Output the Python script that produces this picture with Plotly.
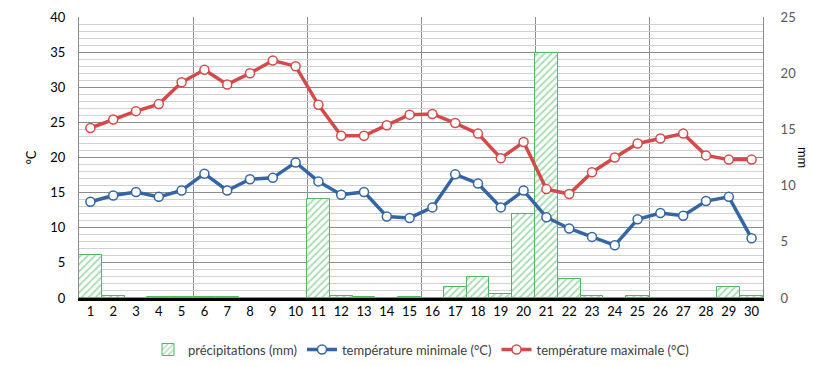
import plotly.graph_objects as go

days = list(range(1, 31))
precip_mm = [3.8, 0.2, 0.0, 0.1, 0.1, 0.1, 0.1, 0.0, 0.0, 0.0,
             8.8, 0.2, 0.1, 0.0, 0.1, 0.0, 1.0, 1.9, 0.4, 7.5,
             21.8, 1.7, 0.2, 0.0, 0.2, 0.0, 0.0, 0.0, 1.0, 0.2]
tmin = [13.7, 14.6, 15.1, 14.4, 15.3, 17.7, 15.3, 16.9, 17.1, 19.3,
        16.6, 14.7, 15.1, 11.6, 11.4, 12.9, 17.6, 16.3, 12.9, 15.3,
        11.5, 9.9, 8.7, 7.5, 11.2, 12.1, 11.7, 13.8, 14.4, 8.5]
tmax = [24.2, 25.4, 26.6, 27.6, 30.7, 32.5, 30.4, 32.0, 33.8, 33.0,
        27.5, 23.1, 23.1, 24.6, 26.1, 26.2, 24.9, 23.4, 19.9, 22.2,
        15.5, 14.8, 17.9, 20.0, 22.0, 22.7, 23.4, 20.3, 19.7, 19.7]

FONT = "Lato"
GREEN = "#4fb862"
BLUE = "#3465a4"
RED = "#d44a4a"

fig = go.Figure()
fig.add_trace(go.Bar(
    x=days, y=precip_mm, name="précipitations (mm)", yaxis="y",
    width=1.0,
    marker=dict(color="white", line=dict(color=GREEN, width=1),
                pattern=dict(shape="/", fgcolor=GREEN, bgcolor="white",
                             size=5, solidity=0.35)),
))
fig.add_trace(go.Scatter(
    x=days, y=tmin, name="température minimale (°C)", yaxis="y2",
    mode="lines+markers",
    line=dict(color=BLUE, width=3.5),
    marker=dict(symbol="circle", size=9, color="white",
                line=dict(color=BLUE, width=1.5)),
))
fig.add_trace(go.Scatter(
    x=days, y=tmax, name="température maximale (°C)", yaxis="y2",
    mode="lines+markers",
    line=dict(color=RED, width=3.5),
    marker=dict(symbol="circle", size=9, color="white",
                line=dict(color=RED, width=1.5)),
))

fig.update_layout(
    width=813, height=358,
    margin=dict(l=71, r=58, t=9, b=68, autoexpand=False),
    paper_bgcolor="white", plot_bgcolor="white",
    font=dict(family=FONT, size=13, color="black"),
    bargap=0,
    showlegend=True,
    legend=dict(orientation="h", x=0.5, xanchor="center", y=-0.13,
                yanchor="top", font=dict(size=13, color="#404040"),
                itemwidth=30, tracegroupgap=0),
    xaxis=dict(
        range=[0.5, 30.5], tickmode="array", tickvals=days,
        ticktext=[str(d) for d in days], showgrid=False, automargin=False,
        ticks="", showline=True, linecolor="black", linewidth=2.5,
        tickfont=dict(size=13, color="black"), zeroline=False,
        minor=dict(tick0=0.5, dtick=5, showgrid=True, gridcolor="#8c8c8c",
                   gridwidth=1, ticks=""),
        mirror=False,
    ),
    yaxis=dict(
        side="right", range=[0, 25], tickvals=[0, 5, 10, 15, 20, 25],
        showgrid=False, zeroline=False, showline=True, linecolor="#8c8c8c",
        linewidth=1, tickfont=dict(size=13, color="#595959"), ticks="",
        ticklabelstandoff=14, automargin=False,
    ),
    yaxis2=dict(
        overlaying="y", side="left", range=[0, 40],
        tickvals=[0, 5, 10, 15, 20, 25, 30, 35, 40],
        showgrid=True, gridcolor="#8c8c8c", gridwidth=1.2,
        minor=dict(dtick=1, showgrid=True, gridcolor="#d0d0d0", gridwidth=1),
        zeroline=False, showline=True, linecolor="#8c8c8c", linewidth=1,
        tickfont=dict(size=13, color="black"), ticks="",
        ticklabelstandoff=10, automargin=False,
        title=dict(text="°C", font=dict(size=13, color="black"), standoff=10),
    ),
    annotations=[dict(text="mm", xref="paper", yref="paper", x=1.074, y=0.5,
                      textangle=90, showarrow=False,
                      font=dict(size=13, color="black", family=FONT))],
)

fig.write_html("out.html")
